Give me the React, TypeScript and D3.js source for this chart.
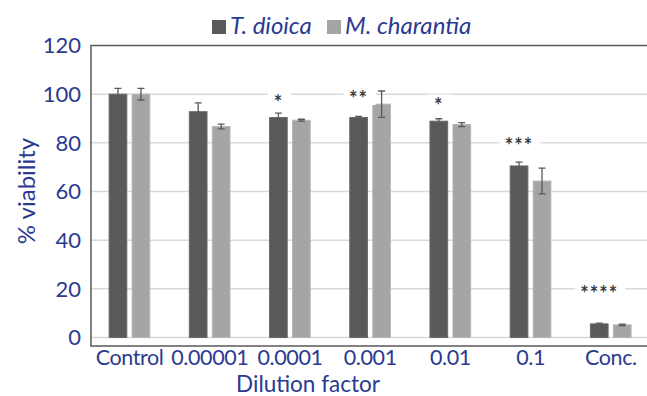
import { useRef, useEffect } from 'react'
import * as d3 from 'd3'

const categories = ['Control', '0.00001', '0.0001', '0.001', '0.01', '0.1', 'Conc.']
const series = ['T. dioica', 'M. charantia']
const dioica = [100, 92.8, 90.4, 90.4, 88.9, 70.5, 5.6]
const dioicaErr = [2.4, 3.6, 1.8, 0.5, 1.0, 1.6, 0.3]
const charantia = [100, 86.7, 89.3, 95.9, 87.5, 64.3, 5.2]
const charantiaErr = [2.4, 1.0, 0.4, 5.4, 0.8, 5.3, 0.3]
const stars = ['', '', '*', '**', '*', '***', '****']
const starLevel = [0, 0, 97.6, 99.2, 96.2, 79.8, 19.3]
const yTicks = [0, 20, 40, 60, 80, 100, 120]

const W = 647
const H = 396
const TEXT = '#2b3a8f'
const COLORS = ['#595959', '#a5a5a5']
const FONT = 'Lato, "Open Sans", sans-serif'

const App = () => {
  const svgRef = useRef<SVGSVGElement>(null)

  useEffect(() => {
    const svg = d3.select(svgRef.current)
    svg.selectAll('*').remove()

    const left = 91
    const bottom = 346
    const y = d3.scaleLinear().domain([0, 120]).range([337.5, 45.5])
    const x = d3.scaleBand().domain(categories).range([89.5, 651]).padding(0)
    const inner = d3.scaleBand().domain(series).range([-20.5, 20.2]).paddingInner(0.23)

    // gridlines
    svg.append('g')
      .selectAll('line')
      .data(yTicks.slice(0, -1))
      .join('line')
      .attr('x1', left).attr('x2', W)
      .attr('y1', d => y(d)).attr('y2', d => y(d))
      .attr('stroke', '#d9d9d9').attr('stroke-width', 1.5)

    // plot frame
    svg.append('path')
      .attr('d', `M${W + 5},${y(120)}H${left}V${bottom}H${W + 5}`)
      .attr('fill', 'none').attr('stroke', '#595959').attr('stroke-width', 1.5)

    // y tick labels
    svg.append('g')
      .selectAll('text')
      .data(yTicks)
      .join('text')
      .attr('x', 81).attr('y', d => y(d))
      .attr('dy', '0.36em')
      .attr('text-anchor', 'end')
      .attr('font-size', 22).attr('font-family', FONT).attr('fill', TEXT)
      .text(d => d)

    const data = [
      { name: series[0], values: dioica, err: dioicaErr },
      { name: series[1], values: charantia, err: charantiaErr },
    ]

    data.forEach((s, si) => {
      const g = svg.append('g')
      const rows = categories.map((c, i) => ({ c, v: s.values[i], e: s.err[i] }))
      const bx = (c: string) => x(c)! + x.bandwidth() / 2 + inner(s.name)!
      g.selectAll('rect')
        .data(rows)
        .join('rect')
        .attr('x', d => bx(d.c))
        .attr('y', d => y(d.v))
        .attr('width', inner.bandwidth())
        .attr('height', d => y(0) - y(d.v))
        .attr('fill', COLORS[si])
        .attr('stroke', si === 0 ? '#6b6b6b' : '#b8b8b8')
        .attr('stroke-width', 1)
      const cx = (c: string) => bx(c) + inner.bandwidth() / 2
      g.selectAll('path.err')
        .data(rows)
        .join('path')
        .attr('class', 'err')
        .attr('d', d => {
          const t = y(d.v + d.e), b = y(d.v - d.e), m = cx(d.c)
          return `M${m},${t}V${b}M${m - 3.5},${t}H${m + 3.5}M${m - 3.5},${b}H${m + 3.5}`
        })
        .attr('fill', 'none').attr('stroke', '#595959').attr('stroke-width', 1.3)
    })

    // significance marks with white label boxes
    const sig = categories
      .map((c, i) => ({ c, s: stars[i], lv: starLevel[i] }))
      .filter(d => d.s)
    const sx = (c: string) => x(c)! + x.bandwidth() / 2 + inner(series[0])! + inner.bandwidth() / 2
    const sg = svg.append('g')
    sg.selectAll('rect')
      .data(sig)
      .join('rect')
      .attr('x', d => sx(d.c) - (14 + 9 * d.s.length) / 2 + 1)
      .attr('y', d => y(d.lv) - 9)
      .attr('width', d => 14 + 9 * d.s.length)
      .attr('height', 18)
      .attr('fill', '#fff')
    sg.selectAll('text')
      .data(sig)
      .join('text')
      .attr('x', d => sx(d.c))
      .attr('y', d => y(d.lv) + 10)
      .attr('text-anchor', 'middle')
      .attr('font-size', 20).attr('font-weight', 'bold')
      .attr('letter-spacing', 1)
      .attr('font-family', FONT).attr('fill', '#3a3a3a')
      .text(d => d.s)

    // x labels
    svg.append('g')
      .selectAll('text')
      .data(categories)
      .join('text')
      .attr('x', d => x(d)! + x.bandwidth() / 2)
      .attr('y', 365)
      .attr('text-anchor', 'middle')
      .attr('font-size', 21.5).attr('letter-spacing', -0.4)
      .attr('font-family', FONT).attr('fill', TEXT)
      .text(d => d)

    svg.append('text')
      .attr('x', 308).attr('y', 392)
      .attr('text-anchor', 'middle')
      .attr('font-size', 22.5).attr('font-family', FONT).attr('fill', TEXT)
      .text('Dilution factor')

    svg.append('text')
      .attr('transform', 'translate(35,191) rotate(-90)')
      .attr('text-anchor', 'middle')
      .attr('font-size', 24).attr('font-family', FONT).attr('fill', TEXT)
      .text('% viability')

    // legend
    const lg = svg.append('g')
    const lx = [212, 327]
    series.forEach((s, i) => {
      lg.append('rect')
        .attr('x', lx[i]).attr('y', 20).attr('width', 14).attr('height', 14)
        .attr('fill', COLORS[i])
      lg.append('text')
        .attr('x', lx[i] + 18).attr('y', 34)
        .attr('font-size', 24).attr('font-style', 'italic')
        .attr('font-family', FONT).attr('fill', TEXT)
        .text(s)
    })
  }, [])

  return (
    <div style={{ position: 'absolute', left: 0, top: 0 }}>
      <svg ref={svgRef} width={W} height={H} style={{ display: 'block', background: '#fff' }} />
    </div>
  )
}

export default App
